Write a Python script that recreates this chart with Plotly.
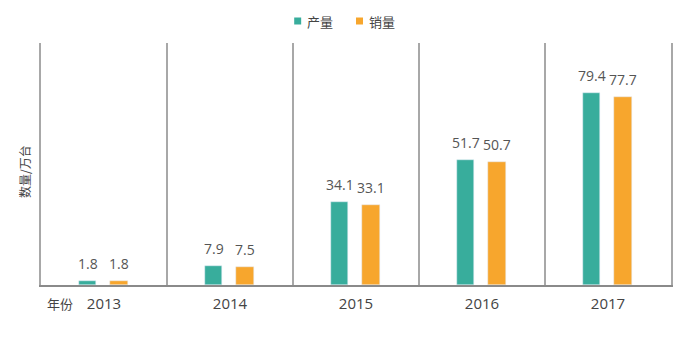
import plotly.graph_objects as go

years = ["2013", "2014", "2015", "2016", "2017"]
production = [1.8, 7.9, 34.1, 51.7, 79.4]
sales = [1.8, 7.5, 33.1, 50.7, 77.7]
series_names = ["产量", "销量"]

teal = "#38ad9c"
orange = "#f7a62d"
colors = [teal, orange]
offsets = [-0.2, 0.05]
bar_w = 0.14
pos = list(range(len(years)))

# plot area in pixels
L, R, T, B = 41, 10, 43, 70
W, H = 683, 355
PW, PH = W - L - R, H - T - B


def px(x):
    return (x - L) / PW


def py(y):
    return (H - B - y) / PH


fig = go.Figure()
for name, vals, col, off in zip(series_names, [production, sales], colors, offsets):
    fig.add_trace(go.Bar(
        x=pos, y=vals, name=name, marker_color=col,
        width=bar_w, offset=off, showlegend=False,
    ))
    for i, v in zip(pos, vals):
        fig.add_annotation(
            x=i + off + bar_w / 2, y=v, xref="x", yref="y",
            text=f"{v:.1f}", showarrow=False, yanchor="bottom", yshift=6,
            font=dict(size=14, color="#555555"),
        )

fig.update_layout(
    width=W, height=H,
    margin=dict(l=L, r=R, t=T, b=B),
    paper_bgcolor="white", plot_bgcolor="white",
    font=dict(family="Open Sans, Noto Sans CJK SC, sans-serif", color="#444444"),
    showlegend=False,
    barmode="overlay",
    bargap=0,
)

fig.update_xaxes(
    range=[-0.5, len(years) - 0.5],
    tickvals=pos, ticktext=years, ticks="",
    tickfont=dict(size=15, color="#444444"),
    ticklabelstandoff=4,
    showgrid=False, zeroline=False,
    showline=True, linecolor="#8a8a8a", linewidth=2,
    minor=dict(tick0=0.5, dtick=1, showgrid=True, gridcolor="#a8a8a8", gridwidth=1.5, ticks=""),
)
fig.update_yaxes(
    range=[0, 100], showticklabels=False, showgrid=False, zeroline=False,
    showline=True, mirror=True, linecolor="#a8a8a8", linewidth=1.5, ticks="",
)

# manual legend
legend_x = [295, 357]
for name, col, lx in zip(series_names, colors, legend_x):
    fig.add_shape(type="rect", xref="paper", yref="paper",
                  x0=px(lx), x1=px(lx + 7), y0=py(24.5), y1=py(17.5),
                  fillcolor=col, line=dict(width=0))
    fig.add_annotation(text=name, xref="paper", yref="paper",
                       x=px(lx + 11), y=py(21), xanchor="left", yanchor="middle",
                       showarrow=False,
                       font=dict(size=13, color="#444444", family="Noto Sans CJK SC"))

fig.add_annotation(
    text="数量/万台", textangle=-90, xref="paper", yref="paper",
    x=px(24), y=py(172), xanchor="center", yanchor="middle",
    showarrow=False, font=dict(size=12, color="#444444", family="Noto Sans CJK SC"),
)
fig.add_annotation(
    text="年份", xref="paper", yref="paper",
    x=px(45), y=py(303), xanchor="left", yanchor="middle",
    showarrow=False, font=dict(size=13, color="#444444", family="Noto Sans CJK SC"),
)

fig.write_html("out.html")
